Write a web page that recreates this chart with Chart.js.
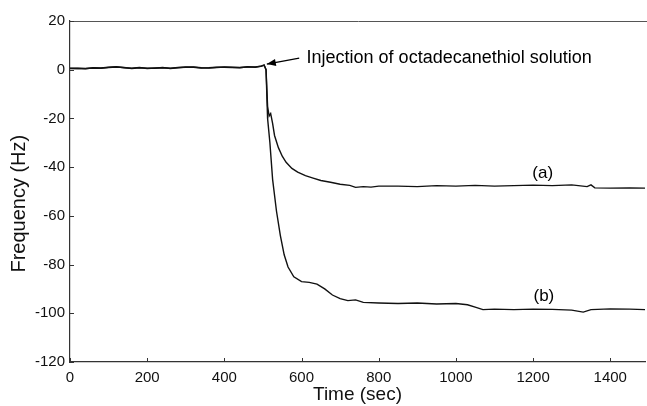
<!DOCTYPE html>
<html>
<head>
<meta charset="utf-8">
<script src="https://cdn.jsdelivr.net/npm/chart.js@4/dist/chart.umd.min.js"></script>
<style>
  html, body { margin: 0; padding: 0; background: #fff; }
  #wrap { width: 647px; height: 406px; }
</style>
</head>
<body>
<div id="wrap"><canvas id="c" width="647" height="406"></canvas></div>
<script>
// ---- data ----
const timeA = [0,20,40,60,80,100,120,140,160,180,200,220,240,260,280,300,320,340,360,380,400,420,440,460,480,495,503,508,512,516,520,525,530,540,550,560,575,590,610,630,650,675,700,725,740,760,780,800,850,900,950,1000,1050,1100,1150,1200,1250,1300,1340,1350,1360,1400,1450,1490];
const freqA = [0.5,0.6,0.4,0.8,0.7,1.0,1.2,0.8,0.6,0.9,0.5,0.7,0.8,0.6,0.9,1.0,1.1,0.8,0.7,0.9,1.1,1.0,0.8,1.2,1.0,1.5,2.0,0.0,-15,-19,-18,-22,-27,-32,-35.5,-38,-40.5,-42,-43.5,-44.5,-45.5,-46.2,-47,-47.5,-48.3,-48,-48.2,-47.8,-47.8,-48,-47.6,-47.8,-47.5,-47.8,-47.6,-47.4,-47.6,-47.3,-48,-47.3,-48.5,-48.6,-48.5,-48.6];
const timeB = [0,20,40,60,80,100,120,140,160,180,200,220,240,260,280,300,320,340,360,380,400,420,440,460,480,495,503,508,512,518,525,535,545,555,565,580,600,620,640,660,680,700,720,740,760,800,850,900,950,1000,1030,1050,1070,1100,1150,1200,1250,1300,1330,1350,1400,1450,1490];
const freqB = [0.6,0.5,0.5,0.7,0.6,0.9,1.1,0.9,0.5,0.8,0.6,0.6,0.9,0.5,0.8,1.1,1.0,0.7,0.8,1.0,1.0,0.9,0.9,1.1,1.1,1.4,1.8,0.0,-20,-30,-45,-58,-68,-76,-81,-85,-87,-87.3,-88,-90,-92.5,-94,-94.8,-94.5,-95.5,-95.8,-96,-95.8,-96.2,-96,-96.5,-97.5,-98.5,-98.3,-98.5,-98.3,-98.4,-98.7,-99.5,-98.5,-98.2,-98.3,-98.5];
const xTicks = [0,200,400,600,800,1000,1200,1400];
const yTicks = [20,0,-20,-40,-60,-80,-100,-120];
const seriesLabels = ['(a)', '(b)'];
const annotationText = 'Injection of octadecanethiol solution';
const xTitle = 'Time (sec)';
const yTitle = 'Frequency (Hz)';

const FONT = "'Liberation Sans', Arial, Helvetica, sans-serif";
const toXY = (ts, vs) => ts.map((t, i) => ({x: t, y: vs[i]}));

const decor = {
  id: 'decor',
  afterDraw(chart) {
    const {ctx, chartArea: a, scales: {x, y}} = chart;
    ctx.save();
    // top frame line
    ctx.strokeStyle = '#555';
    ctx.lineWidth = 1;
    ctx.beginPath();
    ctx.moveTo(a.left, a.top + 0.5);
    ctx.lineTo(a.right + 2, a.top + 0.5);
    ctx.stroke();
    // inward tick marks
    ctx.strokeStyle = '#333';
    ctx.beginPath();
    xTicks.forEach(v => {
      const px = Math.round(x.getPixelForValue(v)) + 0.5;
      ctx.moveTo(px, a.bottom); ctx.lineTo(px, a.bottom - 4);
    });
    yTicks.forEach(v => {
      const py = Math.round(y.getPixelForValue(v)) + 0.5;
      ctx.moveTo(a.left, py); ctx.lineTo(a.left + 4, py);
    });
    ctx.stroke();
    // annotation arrow
    const hx = x.getPixelForValue(510), hy = y.getPixelForValue(2.3);
    const tx = x.getPixelForValue(594), ty = y.getPixelForValue(4.8);
    ctx.strokeStyle = '#000';
    ctx.fillStyle = '#000';
    ctx.lineWidth = 1.3;
    ctx.beginPath(); ctx.moveTo(tx, ty); ctx.lineTo(hx, hy); ctx.stroke();
    const ang = Math.atan2(hy - ty, hx - tx);
    const L = 9, W = 3.5;
    ctx.beginPath();
    ctx.moveTo(hx, hy);
    ctx.lineTo(hx - L * Math.cos(ang) + W * Math.sin(ang), hy - L * Math.sin(ang) - W * Math.cos(ang));
    ctx.lineTo(hx - L * Math.cos(ang) - W * Math.sin(ang), hy - L * Math.sin(ang) + W * Math.cos(ang));
    ctx.closePath(); ctx.fill();
    // texts
    ctx.font = '18px ' + FONT;
    ctx.textBaseline = 'middle';
    ctx.textAlign = 'left';
    ctx.fillText(annotationText, x.getPixelForValue(613), y.getPixelForValue(4.7));
    ctx.font = '17px ' + FONT;
    ctx.textAlign = 'center';
    ctx.fillText(seriesLabels[0], x.getPixelForValue(1225), y.getPixelForValue(-42.5));
    ctx.fillText(seriesLabels[1], x.getPixelForValue(1228), y.getPixelForValue(-93));
    // y axis title (slightly below the axis centre, as in the original)
    ctx.fillStyle = '#111';
    ctx.font = '20px ' + FONT;
    ctx.translate(19, y.getPixelForValue(-55));
    ctx.rotate(-Math.PI / 2);
    ctx.textAlign = 'center';
    ctx.textBaseline = 'middle';
    ctx.fillText(yTitle, 0, 0);
    ctx.restore();
  }
};

new Chart(document.getElementById('c'), {
  type: 'line',
  data: {
    datasets: [
      { label: seriesLabels[0], data: toXY(timeA, freqA), borderColor: '#111', borderWidth: 1.4, pointRadius: 0, tension: 0, fill: false },
      { label: seriesLabels[1], data: toXY(timeB, freqB), borderColor: '#111', borderWidth: 1.4, pointRadius: 0, tension: 0, fill: false }
    ]
  },
  options: {
    responsive: false,
    animation: false,
    events: [],
    layout: { padding: { top: 21, right: 2, left: 0, bottom: 0 } },
    plugins: { legend: { display: false }, tooltip: { enabled: false } },
    scales: {
      x: {
        type: 'linear', min: 0, max: 1490,
        afterFit(s) { s.height = 44; },
        afterBuildTicks(s) { s.ticks = xTicks.map(v => ({value: v})); },
        grid: { display: false, drawTicks: false },
        border: { display: true, color: '#333', width: 1.2 },
        ticks: { color: '#111', font: { family: FONT, size: 15 }, padding: 7, maxRotation: 0, callback: v => String(v) },
        title: { display: true, text: xTitle, color: '#111', font: { family: FONT, size: 19 }, padding: { top: 0, bottom: 0 } }
      },
      y: {
        type: 'linear', min: -120, max: 20,
        afterFit(s) { s.width = 70; },
        afterBuildTicks(s) { s.ticks = yTicks.map(v => ({value: v})); },
        grid: { display: false, drawTicks: false },
        border: { display: true, color: '#333', width: 1.2 },
        ticks: { color: '#111', font: { family: FONT, size: 15 }, padding: 5, callback: v => String(v) },
        title: { display: false }
      }
    }
  },
  plugins: [decor]
});
</script>
</body>
</html>
